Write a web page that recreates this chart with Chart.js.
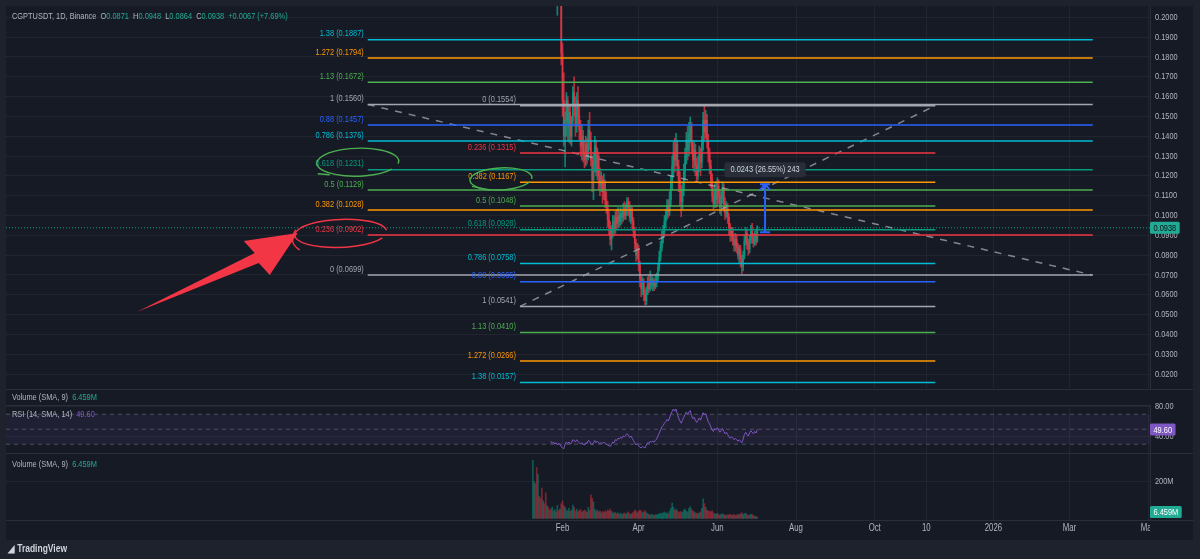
<!DOCTYPE html>
<html><head><meta charset="utf-8">
<script src="https://cdn.jsdelivr.net/npm/chart.js@4.4.1/dist/chart.umd.min.js"></script>
<style>
html,body{margin:0;padding:0;background:#1e222d;}
#wrap{position:relative;width:1200px;height:559px;background:#1e222d;overflow:hidden;}
#pane{position:absolute;left:6px;top:6px;width:1187px;height:534px;background:#161a25;}
canvas{position:absolute;left:0;}
.sep{position:absolute;left:6px;width:1187px;height:1px;background:#2a2e39;}
.lg{position:absolute;left:12px;height:12px;line-height:12px;font-size:9.5px;color:#b2b5be;white-space:nowrap;font-family:"Liberation Sans",Arial,sans-serif;transform:scaleX(0.78);transform-origin:left center;}
.g{color:#22ab94}.p{color:#7e57c2}
#logo{position:absolute;left:8px;top:543px;height:12px;line-height:12px;font-size:10px;font-weight:bold;color:#d1d4dc;font-family:"Liberation Sans",Arial,sans-serif;transform:scaleX(0.85);transform-origin:left center;white-space:nowrap;}
</style></head><body>
<div id="wrap">
  <div id="pane"></div>
  <canvas id="cMain" width="1200" height="390" style="top:0"></canvas>
  <canvas id="cRsi" width="1200" height="54" style="top:399px"></canvas>
  <canvas id="cVol" width="1200" height="87" style="top:453px"></canvas>
  <div class="sep" style="top:389px"></div>
  <div class="sep" style="top:405px;width:1144px"></div>
  <div class="sep" style="top:453px"></div>
  <div class="sep" style="top:520px"></div>
  <div class="lg" style="top:10px">CGPTUSDT, 1D, Binance&nbsp; O<span class="g">0.0871</span>&nbsp; H<span class="g">0.0948</span>&nbsp; L<span class="g">0.0864</span>&nbsp; C<span class="g">0.0938</span>&nbsp; <span class="g">+0.0067 (+7.69%)</span></div>
  <div class="lg" style="top:391px">Volume (SMA, 9)&nbsp; <span class="g">6.459M</span></div>
  <div class="lg" style="top:408px">RSI (14, SMA, 14)&nbsp; <span class="p">49.60</span></div>
  <div class="lg" style="top:458px">Volume (SMA, 9)&nbsp; <span class="g">6.459M</span></div>
  <div id="logo"><span style="color:#d1d4dc">&#9698;</span> TradingView</div>
</div>
<script>
// ---------------- DATA ----------------
const FIRST_DAY = 8; // day index from 2025-01-01 (Jan 9, 2025)
const OPEN = [
.230,.245,.262,.255,.248,.270,.258,.240,.235,.250,
.242,.228,.236,.225,.232,.222,.228,.218,.224,.206,
.212,.209,.210,.182,.158,.140,.148,.158,.145,.152,
.140,.148,.162,.156,.145,.158,.150,.143,.135,.140,
.132,.128,.136,.130,.143,.138,.128,.118,.126,.135,
.122,.130,.120,.115,.118,.112,.116,.108,.104,.098,
.094,.088,.092,.097,.093,.099,.096,.100,.097,.101,
.099,.103,.100,.104,.107,.104,.099,.102,.097,.092,
.086,.080,.083,.075,.068,.063,.066,.060,.057,.062,
.066,.063,.068,.065,.067,.064,.066,.069,.074,.079,
.084,.089,.092,.097,.100,.105,.102,.108,.117,.125,
.132,.128,.136,.125,.118,.112,.107,.113,.122,.130,
.138,.133,.141,.145,.135,.128,.133,.125,.120,.126,
.131,.127,.136,.148,.142,.148,.138,.131,.125,.118,
.110,.106,.112,.108,.115,.110,.104,.109,.114,.106,
.101,.104,.099,.094,.090,.092,.088,.085,.088,.084,
.080,.083,.078,.074,.080,.087,.091,.086,.083,.088,
.092,.089,.086,.090,.0871];
const HIGH = [
.262,.268,.270,.262,.276,.274,.262,.244,.256,.254,
.246,.240,.238,.236,.234,.232,.230,.228,.226,.222,
.218,.214,.212,.187,.172,.152,.162,.160,.156,.155,
.150,.165,.170,.160,.162,.165,.155,.148,.146,.143,
.138,.140,.139,.148,.152,.142,.130,.132,.140,.138,
.134,.132,.124,.122,.120,.121,.118,.112,.107,.102,
.097,.095,.100,.100,.102,.103,.104,.102,.104,.103,
.106,.107,.106,.109,.109,.107,.105,.104,.099,.094,
.088,.086,.085,.077,.070,.069,.068,.063,.064,.069,
.070,.072,.070,.069,.068,.070,.071,.076,.082,.087,
.092,.095,.100,.103,.108,.108,.112,.120,.130,.137,
.139,.1415,.138,.128,.122,.115,.117,.126,.134,.142,
.145,.147,.1497,.147,.138,.137,.136,.129,.130,.135,
.134,.140,.152,.1554,.153,.151,.141,.134,.128,.121,
.114,.116,.117,.119,.118,.113,.112,.117,.116,.109,
.107,.106,.101,.096,.094,.094,.090,.091,.090,.086,
.085,.085,.080,.082,.090,.094,.093,.088,.090,.095,
.096,.091,.092,.093,.0948];
const LOW = [
.221,.238,.246,.240,.244,.250,.236,.228,.232,.238,
.224,.224,.220,.222,.218,.219,.214,.215,.210,.201,
.207,.207,.176,.150,.135,.1245,.140,.138,.137,.136,
.135,.145,.150,.140,.142,.145,.138,.130,.128,.127,
.124,.125,.126,.128,.133,.125,.112,.108,.122,.120,
.118,.113,.110,.112,.106,.108,.104,.101,.094,.090,
.085,.0826,.089,.090,.091,.093,.094,.094,.095,.096,
.097,.098,.098,.100,.100,.097,.096,.093,.089,.083,
.077,.078,.072,.064,.059,.060,.057,.0547,.055,.060,
.061,.062,.063,.062,.062,.063,.064,.067,.072,.077,
.082,.086,.090,.094,.098,.099,.100,.105,.113,.120,
.122,.125,.120,.112,.105,.0993,.103,.110,.118,.126,
.128,.130,.137,.131,.124,.122,.120,.117,.118,.122,
.120,.124,.133,.138,.139,.134,.127,.121,.114,.107,
.103,.104,.104,.105,.106,.101,.100,.106,.102,.098,
.099,.096,.090,.087,.087,.085,.082,.082,.081,.078,
.076,.074,.0706,.072,.078,.085,.083,.080,.081,.086,
.086,.084,.085,.085,.0864];
const CLOSE = [
.245,.262,.255,.248,.270,.258,.240,.235,.250,.242,
.228,.236,.225,.232,.222,.228,.218,.224,.216,.214,
.209,.210,.182,.158,.140,.148,.158,.145,.152,.140,
.148,.162,.156,.145,.158,.150,.143,.135,.140,.132,
.128,.136,.130,.143,.138,.128,.118,.126,.135,.122,
.130,.120,.115,.118,.112,.116,.108,.104,.098,.094,
.088,.092,.097,.093,.099,.096,.100,.097,.101,.099,
.103,.100,.104,.107,.104,.099,.102,.097,.092,.086,
.080,.083,.075,.068,.063,.066,.060,.057,.062,.066,
.063,.068,.065,.067,.064,.066,.069,.074,.079,.084,
.089,.092,.097,.100,.105,.102,.108,.117,.125,.132,
.128,.136,.125,.118,.112,.107,.113,.122,.130,.138,
.133,.141,.145,.135,.128,.133,.125,.120,.126,.131,
.127,.136,.148,.142,.148,.138,.131,.125,.118,.110,
.106,.112,.108,.115,.110,.104,.109,.114,.106,.101,
.104,.099,.094,.090,.092,.088,.085,.088,.084,.080,
.083,.078,.074,.080,.087,.091,.086,.083,.088,.092,
.089,.086,.090,.0871,.0938];
const VOLUME_M = [
317,200,190,278,240,120,110,165,95,80,
140,70,60,45,50,62,40,48,35,70,
42,50,80,95,70,60,45,40,55,38,
45,72,60,40,50,36,42,48,34,38,
45,40,32,60,45,128,110,90,50,40,
45,35,40,30,38,32,40,35,45,40,
50,38,30,28,32,25,30,22,28,20,
25,30,22,28,35,25,22,28,35,45,
40,30,38,45,40,30,35,42,30,25,
20,18,22,18,15,20,18,22,25,28,
25,30,35,28,30,25,40,55,83,60,
45,50,40,35,30,38,32,45,50,40,
35,55,64,50,40,35,30,28,25,30,
35,55,106,80,60,45,40,38,35,42,
30,25,22,28,20,18,22,25,20,18,
15,20,18,22,15,18,20,15,18,22,
20,25,30,20,25,28,20,15,18,22,
20,15,12,10,6.459];
const RSI_FIRST_DAY = 22;
const RSI = [
34,31,33,30,32,29,31,30,27,
25,24,30,33,31,33,30,32,36,35,
33,36,34,32,30,32,30,29,32,31,
35,34,31,29,32,35,32,34,32,31,
32,31,33,31,30,29,28,27,30,33,
32,36,35,38,37,39,38,41,40,42,
44,42,39,41,38,35,32,29,31,28,
26,25,27,26,25,29,32,31,34,33,
34,33,35,37,41,45,49,53,55,58,
60,63,61,65,70,74,77,74,77,70,
65,61,58,62,66,70,73,70,73,75,
68,64,66,62,59,62,65,62,67,72,
69,71,65,60,57,53,49,47,51,49,
52,49,46,48,51,47,44,46,43,40,
38,40,38,36,38,36,34,36,34,32,
37,43,46,43,41,45,48,46,44,47,45,49.6];
const RSI_LEVELS = [70, 50, 30];
const RSI_TICKS = [80, 40];
const PRICE_TICKS = [0.02,0.03,0.04,0.05,0.06,0.07,0.08,0.09,0.10,0.11,0.12,0.13,0.14,0.15,0.16,0.17,0.18,0.19,0.20];
const VOLUME_TICKS = [200];
const TIME_TICK_DAYS = [31, 90, 151, 212, 273, 313, 365, 424, 485];
const TIME_TICK_LABELS = ['Feb','Apr','Jun','Aug','Oct','10','2026','Mar','May'];
const LAST_PRICE = 0.0938;
const LAST_RSI = 49.60;
const LAST_VOLUME_M = 6.459;
const FIB_A_RATIOS = ['1.38','1.272','1.13','1','0.88','0.786','0.618','0.5','0.382','0.236','0'];
const FIB_A_PRICES = [0.1887,0.1794,0.1672,0.1560,0.1457,0.1376,0.1231,0.1129,0.1028,0.0902,0.0699];
const FIB_A_DAYS = [-120, 442];
const FIB_B_RATIOS = ['0','0.236','0.382','0.5','0.618','0.786','0.88','1','1.13','1.272','1.38'];
const FIB_B_PRICES = [0.1554,0.1315,0.1167,0.1048,0.0928,0.0758,0.0665,0.0541,0.0410,0.0266,0.0157];
const FIB_B_DAYS = [-2, 320];
const MEASURE_DAY = 188;
const MEASURE_FROM = 0.0915, MEASURE_TO = 0.1158;
const MEASURE_LABEL = '0.0243 (26.55%) 243';

// ---------------- STYLE ----------------
const FONT = '"Liberation Sans",Arial,sans-serif';
const SX = 0.78; // horizontal squeeze of the reference's text
const LEVEL_COLORS = {'0':'#a3a6af','1':'#a3a6af','0.236':'#f23645','0.382':'#ff9800','0.5':'#4caf50','0.618':'#089981','0.786':'#00bcd4','0.88':'#2962ff','1.13':'#4caf50','1.272':'#ff9800','1.38':'#00bcd4'};
const GRID = '#222530';
const AXIS_TEXT = '#b2b5be';
const UP = 'rgba(8,153,129,0.85)', DOWN = 'rgba(242,54,69,0.72)';
const X_MIN = -400.4, X_MAX = 486.4;
Chart.defaults.font.family = FONT;
Chart.defaults.animation = false;

function txt(ctx, s, x, y, align, color, size){
  ctx.save(); ctx.font = size + 'px ' + FONT; ctx.fillStyle = color;
  ctx.textAlign = align; ctx.textBaseline = 'middle';
  ctx.translate(x, y); ctx.scale(SX, 1); ctx.fillText(s, 0, 0); ctx.restore();
}
function xAxis(h){
  return {type:'linear', min:X_MIN, max:X_MAX, offset:false,
    afterBuildTicks: s => { s.ticks = TIME_TICK_DAYS.map(v => ({value:v})); },
    ticks:{display:false, autoSkip:false},
    grid:{color:GRID, drawTicks:false, offset:false}, border:{display:false},
    afterFit: s => { s.height = h; }};
}
function yAxis(min,max,ticks){
  return {type:'linear', position:'right', min, max,
    afterBuildTicks: s => { s.ticks = ticks.map(v => ({value:v})); },
    ticks:{display:false, autoSkip:false},
    grid:{color:GRID, drawTicks:false}, border:{color:'#2a2e39'},
    afterFit: s => { s.width = 43; }};
}
function drawYLabels(chart, fmt){
  const s = chart.scales.y;
  s.ticks.forEach(t => txt(chart.ctx, fmt(t.value), s.left + 5, s.getPixelForValue(t.value), 'left', AXIS_TEXT, 9.5));
}
function hline(v, d0, d1, color, width, dash){
  return {type:'line', data:[{x:d0,y:v},{x:d1,y:v}], borderColor:color, borderWidth:width, borderDash:dash||[], pointRadius:0, order:1};
}
function axisBox(ctx, yPix, text, bg, fg){
  ctx.save();
  ctx.font = '9.5px ' + FONT;
  const w = ctx.measureText(text).width * SX + 7;
  ctx.fillStyle = bg;
  ctx.beginPath(); ctx.roundRect(1150, yPix-6, w, 12, 1.5); ctx.fill();
  ctx.restore();
  txt(ctx, text, 1153.5, yPix+0.5, 'left', fg, 9.5);
}

// ---------------- MAIN PANE ----------------
const mainDatasets = [];
FIB_A_PRICES.forEach((p,i)=> mainDatasets.push(hline(p, FIB_A_DAYS[0], FIB_A_DAYS[1], LEVEL_COLORS[FIB_A_RATIOS[i]], 1.5)));
FIB_B_PRICES.forEach((p,i)=> mainDatasets.push(hline(p, FIB_B_DAYS[0], FIB_B_DAYS[1], LEVEL_COLORS[FIB_B_RATIOS[i]], 1.5)));
mainDatasets.push({type:'line', data:[{x:FIB_A_DAYS[0],y:FIB_A_PRICES[3]},{x:FIB_A_DAYS[1],y:FIB_A_PRICES[10]}], borderColor:'rgba(178,181,190,0.7)', borderWidth:1.5, borderDash:[7,7], pointRadius:0, order:1});
mainDatasets.push({type:'line', data:[{x:FIB_B_DAYS[0],y:FIB_B_PRICES[7]},{x:FIB_B_DAYS[1],y:FIB_B_PRICES[0]}], borderColor:'rgba(178,181,190,0.7)', borderWidth:1.5, borderDash:[7,7], pointRadius:0, order:1});
mainDatasets.push(hline(LAST_PRICE, X_MIN, X_MAX, '#089981', 1, [1,2]));
const candleColors = CLOSE.map((c,i)=> c >= OPEN[i] ? UP : DOWN);
mainDatasets.push({type:'bar', data: LOW.map((l,i)=>({x:FIRST_DAY+i, y:[l, HIGH[i]]})), backgroundColor:candleColors, barThickness:1, grouped:false, order:6});
mainDatasets.push({type:'bar', data: OPEN.map((o,i)=>({x:FIRST_DAY+i, y:[o, CLOSE[i]]})), backgroundColor:candleColors, barThickness:1, grouped:false, order:5});

const mainOverlay = {
  id:'mainOverlay',
  afterDatasetsDraw(chart){
    const {ctx, scales:{x, y}} = chart;
    FIB_A_RATIOS.forEach((r,i)=> txt(ctx, r+' ('+FIB_A_PRICES[i].toFixed(4)+')', x.getPixelForValue(FIB_A_DAYS[0])-4, y.getPixelForValue(FIB_A_PRICES[i])-6, 'right', LEVEL_COLORS[r], 9.5));
    FIB_B_RATIOS.forEach((r,i)=> txt(ctx, r+' ('+FIB_B_PRICES[i].toFixed(4)+')', x.getPixelForValue(FIB_B_DAYS[0])-4, y.getPixelForValue(FIB_B_PRICES[i])-6, 'right', LEVEL_COLORS[r], 9.5));
    ctx.save();
    // price range tool
    const mx = x.getPixelForValue(MEASURE_DAY), y0 = y.getPixelForValue(MEASURE_FROM), y1 = y.getPixelForValue(MEASURE_TO);
    ctx.strokeStyle = '#2962ff'; ctx.lineWidth = 2;
    ctx.beginPath(); ctx.moveTo(mx, y0); ctx.lineTo(mx, y1); ctx.stroke();
    ctx.beginPath(); ctx.moveTo(mx-5, y0); ctx.lineTo(mx+5, y0); ctx.moveTo(mx-5, y1); ctx.lineTo(mx+5, y1);
    ctx.moveTo(mx-5, y1+6); ctx.lineTo(mx, y1); ctx.lineTo(mx+5, y1+6); ctx.stroke();
    ctx.font = '9.5px ' + FONT;
    const tw = ctx.measureText(MEASURE_LABEL).width * SX + 12;
    ctx.fillStyle = 'rgba(42,46,57,0.95)';
    ctx.beginPath(); ctx.roundRect(mx - tw/2, y1-22, tw, 15, 3); ctx.fill();
    ctx.restore();
    txt(ctx, MEASURE_LABEL, mx, y1-14.5, 'center', '#d1d4dc', 9.5);
    // hand-drawn annotations anchored on fib labels
    ctx.save();
    const ax = x.getPixelForValue(FIB_A_DAYS[0]);
    const yRed = y.getPixelForValue(FIB_A_PRICES[9]);
    ctx.lineWidth = 1.4; ctx.strokeStyle = '#f23645';
    ctx.beginPath(); ctx.ellipse(ax-27, yRed-1.5, 46, 14, -0.04, 0.45, Math.PI*2-0.1); ctx.stroke();
    ctx.beginPath(); ctx.moveTo(ax-72, yRed-5); ctx.quadraticCurveTo(ax-80, yRed+8, ax-68, yRed+15); ctx.stroke();
    ctx.strokeStyle = '#4caf50';
    const yG1 = y.getPixelForValue(FIB_A_PRICES[6]);
    ctx.beginPath(); ctx.ellipse(ax-10, yG1-7.5, 41, 14, -0.03, 0.6, Math.PI*2+0.2); ctx.stroke();
    ctx.beginPath(); ctx.moveTo(ax-50, yG1+4); ctx.lineTo(ax-38, yG1+5); ctx.stroke();
    const bx = x.getPixelForValue(FIB_B_DAYS[0]);
    const yG2 = y.getPixelForValue(FIB_B_PRICES[2]);
    ctx.beginPath(); ctx.ellipse(bx-19, yG2-3.5, 31, 11, -0.05, 0.4, Math.PI*2+0.15); ctx.stroke();
    ctx.beginPath(); ctx.moveTo(bx-48, yG2+4); ctx.lineTo(bx-30, yG2+8); ctx.stroke();
    // red arrow pointing at the 0.236 label
    ctx.fillStyle = '#f23645';
    ctx.beginPath();
    ctx.moveTo(ax-70, yRed-2);
    ctx.lineTo(ax-124, yRed+6);
    ctx.lineTo(ax-113, yRed+18);
    ctx.lineTo(ax-231, yRed+77);
    ctx.lineTo(ax-109, yRed+28);
    ctx.lineTo(ax-98, yRed+40);
    ctx.closePath(); ctx.fill();
    ctx.restore();
  },
  afterDraw(chart){
    drawYLabels(chart, v => v.toFixed(4));
    axisBox(chart.ctx, chart.scales.y.getPixelForValue(LAST_PRICE), LAST_PRICE.toFixed(4), '#22ab94', '#0c0e15');
  }
};
new Chart(document.getElementById('cMain'), {
  type:'bar', data:{datasets: mainDatasets},
  options:{responsive:false, events:[], layout:{padding:{left:6,right:7,top:6,bottom:2}},
    plugins:{legend:{display:false}, tooltip:{enabled:false}},
    scales:{x: xAxis(0), y: yAxis(0.01294, 0.2057, PRICE_TICKS)}},
  plugins:[mainOverlay]
});

// ---------------- RSI PANE ----------------
const rsiDatasets = [
  {type:'line', data:RSI.map((v,i)=>({x:RSI_FIRST_DAY+i, y:v})), borderColor:'#7e57c2', borderWidth:1, pointRadius:0, order:0},
  {type:'line', data:[{x:X_MIN,y:RSI_LEVELS[0]},{x:X_MAX,y:RSI_LEVELS[0]}], borderWidth:0, pointRadius:0, fill:{value:RSI_LEVELS[2]}, backgroundColor:'rgba(126,87,194,0.1)', order:3}
];
RSI_LEVELS.forEach(v => rsiDatasets.push(hline(v, X_MIN, X_MAX, 'rgba(120,123,134,0.55)', 1, [4,4])));
new Chart(document.getElementById('cRsi'), {
  type:'line', data:{datasets: rsiDatasets},
  options:{responsive:false, events:[], layout:{padding:{left:6,right:7,top:6,bottom:0}},
    plugins:{legend:{display:false}, tooltip:{enabled:false}},
    scales:{x: xAxis(0), y: yAxis(18.3, 82.3, RSI_TICKS)}},
  plugins:[{id:'rsiBox', afterDraw(chart){
    drawYLabels(chart, v => v.toFixed(2));
    axisBox(chart.ctx, chart.scales.y.getPixelForValue(LAST_RSI), LAST_RSI.toFixed(2), '#7e57c2', '#ffffff'); }}]
});

// ---------------- VOLUME PANE + TIME AXIS ----------------
new Chart(document.getElementById('cVol'), {
  type:'bar', data:{datasets:[{data: VOLUME_M.map((v,i)=>({x:FIRST_DAY+i, y:v})),
    backgroundColor: CLOSE.map((c,i)=> c >= OPEN[i] ? 'rgba(8,153,129,0.5)' : 'rgba(242,54,69,0.45)'), barThickness:1}]},
  options:{responsive:false, events:[], layout:{padding:{left:6,right:7,top:0,bottom:0}},
    plugins:{legend:{display:false}, tooltip:{enabled:false}},
    scales:{x: xAxis(20), y: yAxis(-9.3, 357, VOLUME_TICKS)}},
  plugins:[{id:'volBox', afterDraw(chart){
    const ctx = chart.ctx, xs = chart.scales.x, ca = chart.chartArea;
    drawYLabels(chart, v => v + 'M');
    ctx.save(); ctx.beginPath(); ctx.rect(ca.left, ca.bottom, ca.right - ca.left, 20); ctx.clip();
    xs.ticks.forEach(t => txt(ctx, TIME_TICK_LABELS[TIME_TICK_DAYS.indexOf(t.value)], xs.getPixelForValue(t.value), ca.bottom + 8, 'center', AXIS_TEXT, 10));
    ctx.restore();
    axisBox(ctx, chart.scales.y.getPixelForValue(LAST_VOLUME_M)-5, LAST_VOLUME_M.toFixed(3)+'M', '#22ab94', '#ffffff'); }}]
});
</script>
</body></html>
